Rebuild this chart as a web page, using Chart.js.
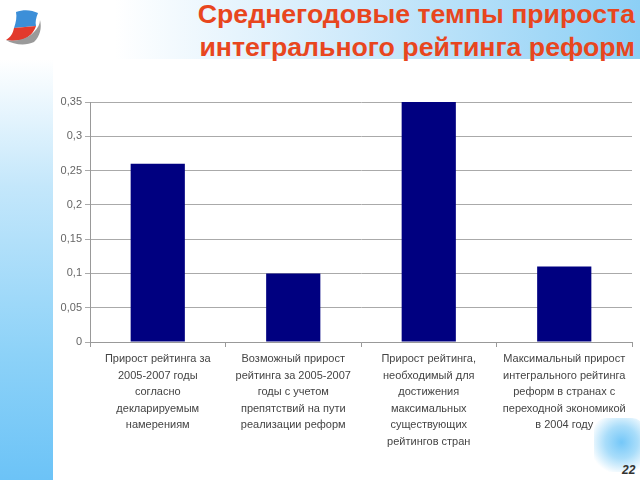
<!DOCTYPE html>
<html>
<head>
<meta charset="utf-8">
<script src="https://cdn.jsdelivr.net/npm/chart.js@4"></script>
<style>
    html, body { margin: 0; padding: 0; }
    body { width: 640px; height: 480px; position: relative; overflow: hidden; background: #fff; font-family: "Liberation Sans", Arial, sans-serif; }
    #header { position: absolute; left: 0; top: 0; width: 640px; height: 59px; background: linear-gradient(to right, #ffffff 0%, #ffffff 18%, #cfeafb 55%, #8ccff5 100%); }
    #strip { position: absolute; left: 0; top: 59px; width: 53px; height: 421px; background: linear-gradient(to bottom, #ffffff 0%, #c4e7fb 30%, #8dd2f8 70%, #6cc3f7 100%); }
    #corner { position: absolute; left: 594px; top: 418px; width: 50px; height: 54px; border-radius: 12px; background: radial-gradient(circle at 55% 45%, #74c7f8 0%, #a9ddfa 40%, rgba(255,255,255,0) 80%); }
    #title { position: absolute; right: 5px; top: -2px; text-align: right; color: #e8461e; font-weight: bold; font-size: 26.7px; line-height: 33px; }
    #page { position: absolute; left: 622px; top: 463px; font-size: 12px; font-weight: bold; font-style: italic; color: #333; }
    #logo { position: absolute; left: 2px; top: 4px; }
    #chartBox { position: absolute; left: 0; top: 0; width: 640px; height: 480px; }
</style>
</head>
<body>
<div id="header"></div>
<div id="strip"></div>
<div id="corner"></div>
<svg id="logo" width="44" height="44" viewBox="0 0 44 44">
    <path d="M14 8 C22 5 30 6 36 9 C34 14 33 18 34 22 L12 24 C14 18 15 13 14 8 Z" fill="#3c8fd8"/>
    <path d="M12 24 L34 22 C32 28 28 33 20 36 C14 37 8 37 4 36 C9 33 11 29 12 24 Z" fill="#e23a2c"/>
    <path d="M4 36 C12 38 24 36 32 28 C36 24 38 20 38 16 C40 24 38 32 32 38 C24 42 12 41 4 36 Z" fill="#9a9a9a"/>
</svg>
<div id="title">Среднегодовые темпы прироста<br>интегрального рейтинга реформ</div>
<div id="page">22</div>
<div id="chartBox"><canvas id="chart"></canvas></div>
<script>
const categories = [
    ["Прирост рейтинга за", "2005-2007 годы", "согласно", "декларируемым", "намерениям"],
    ["Возможный прирост", "рейтинга за 2005-2007", "годы с учетом", "препятствий на пути", "реализации реформ"],
    ["Прирост рейтинга,", "необходимый для", "достижения", "максимальных", "существующих", "рейтингов стран"],
    ["Максимальный прирост", "интегрального рейтинга", "реформ в странах с", "переходной экономикой", "в 2004 году"],
];
const values = [0.26, 0.1, 0.35, 0.11];
const yTicks = [0, 0.05, 0.1, 0.15, 0.2, 0.25, 0.3, 0.35];

const ctx = document.getElementById("chart");
new Chart(ctx, {
    type: "bar",
    data: {
        labels: categories,
        datasets: [
            {
                data: values,
                backgroundColor: "#000080",
                barPercentage: 0.4,
                categoryPercentage: 1,
            },
        ],
    },
    options: {
        responsive: true,
        maintainAspectRatio: false,
        animation: false,
        layout: {
            padding: { left: 0, right: 8, top: 102, bottom: 0 },
        },
        plugins: {
            legend: { display: false },
            tooltip: { enabled: false },
        },
        scales: {
            y: {
                min: 0,
                max: 0.35,
                afterFit: (scale) => { scale.width = 90; },
                afterBuildTicks: (scale) => {
                    scale.ticks = yTicks.map((v) => ({ value: v }));
                },
                ticks: {
                    color: "#666",
                    font: { family: "Liberation Sans", size: 11 },
                    padding: 3,
                    callback: (v) => String(+v.toFixed(2)).replace(".", ","),
                },
                grid: { color: "#aaaaaa", tickLength: 5 },
                border: { color: "#999999" },
            },
            x: {
                afterFit: (scale) => { scale.height = 138; },
                ticks: {
                    color: "#444",
                    font: { family: "Liberation Sans", size: 11, lineHeight: 1.5 },
                    padding: 4,
                    maxRotation: 0,
                    autoSkip: false,
                },
                grid: { drawOnChartArea: false, color: "#999999", tickLength: 5 },
                border: { color: "#999999" },
            },
        },
    },
});
</script>
</body>
</html>
